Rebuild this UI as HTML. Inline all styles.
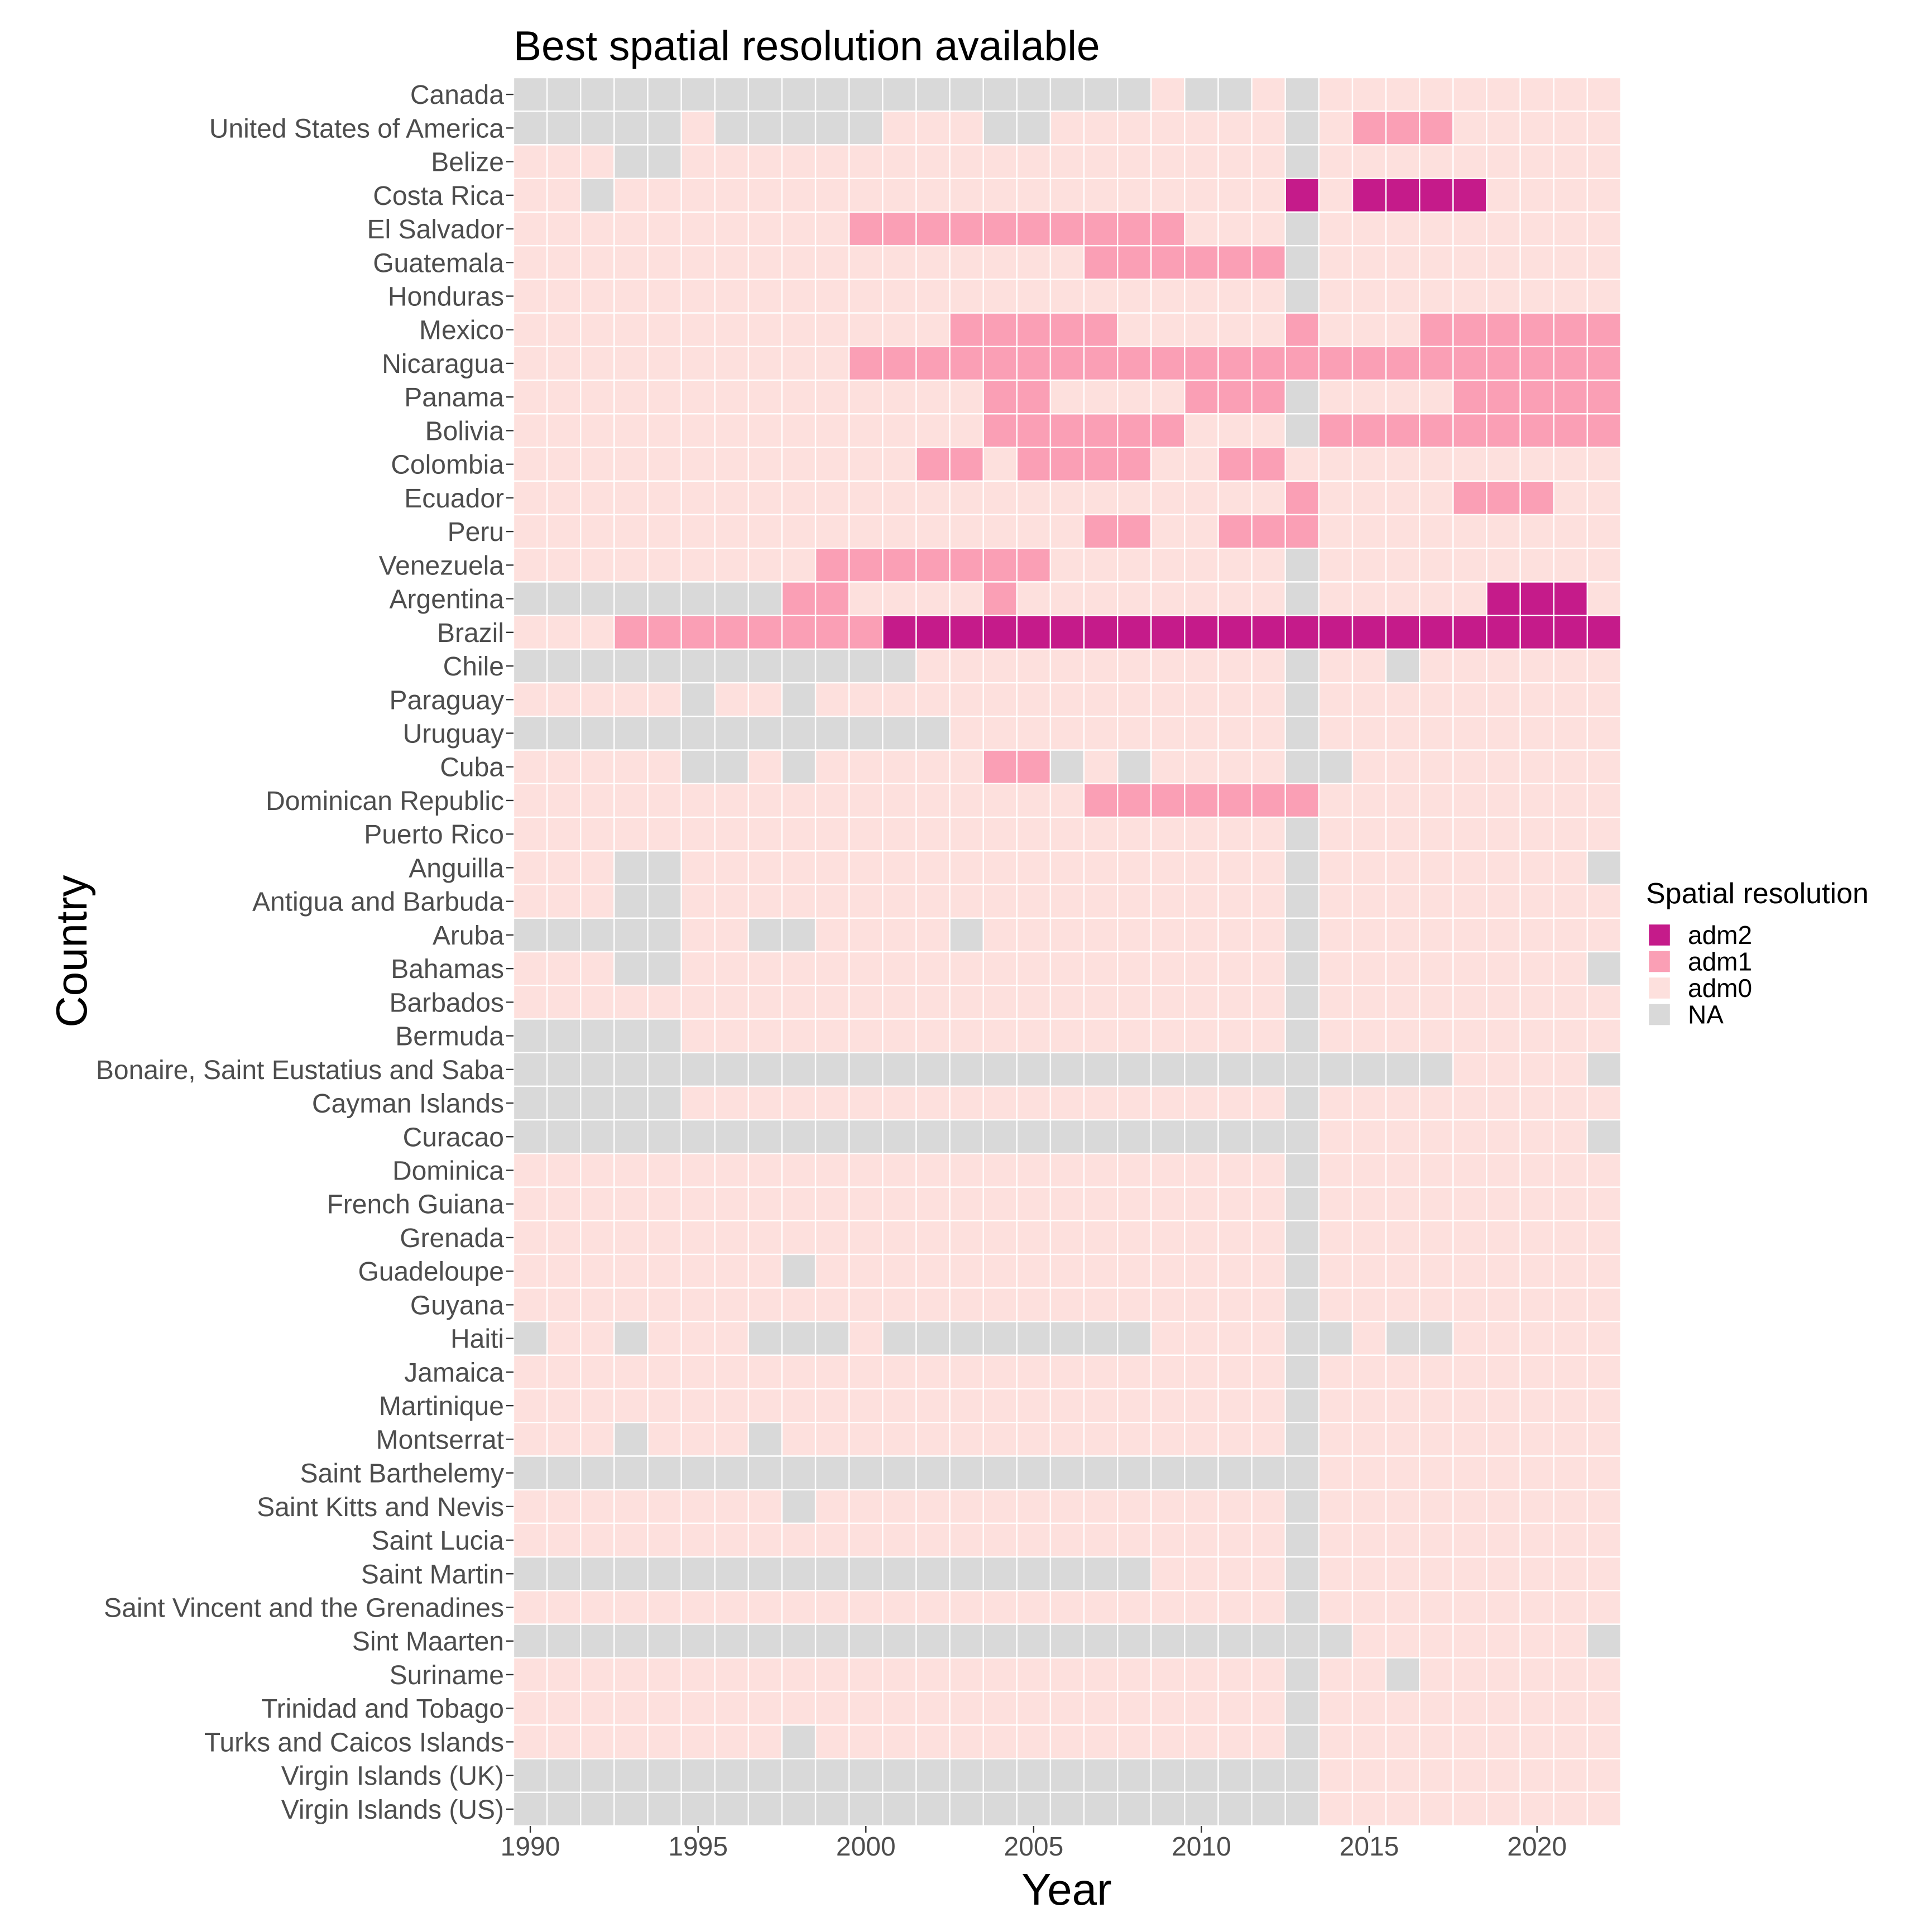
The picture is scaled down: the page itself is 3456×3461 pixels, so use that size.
<!DOCTYPE html>
<html><head><meta charset="utf-8"><style>
html,body{margin:0;padding:0;background:#fff}
svg text{font-family:"Liberation Sans",Arial,sans-serif}
</style></head><body>
<svg id="chart" xmlns="http://www.w3.org/2000/svg" width="3456" height="3456" viewBox="0 0 3456 3456">
<rect width="3456" height="3456" fill="#fff"/>
<text x="920" y="108" font-size="75" fill="#000">Best spatial resolution available</text>
<g id="cells"></g>
<g id="yaxis"></g>
<g id="xaxis"></g>
<text x="1911" y="3412" font-size="80" text-anchor="middle" fill="#000">Year</text>
<text transform="translate(155,1704) rotate(-90)" font-size="78" text-anchor="middle" fill="#000">Country</text>
<g>
<text x="2949" y="1618" font-size="52" fill="#000">Spatial resolution</text>
<g id="legend-entries"></g>
</g>
</svg>
<script>
const countries=["Canada","United States of America","Belize","Costa Rica","El Salvador","Guatemala","Honduras","Mexico","Nicaragua","Panama","Bolivia","Colombia","Ecuador","Peru","Venezuela","Argentina","Brazil","Chile","Paraguay","Uruguay","Cuba","Dominican Republic","Puerto Rico","Anguilla","Antigua and Barbuda","Aruba","Bahamas","Barbados","Bermuda","Bonaire, Saint Eustatius and Saba","Cayman Islands","Curacao","Dominica","French Guiana","Grenada","Guadeloupe","Guyana","Haiti","Jamaica","Martinique","Montserrat","Saint Barthelemy","Saint Kitts and Nevis","Saint Lucia","Saint Martin","Saint Vincent and the Grenadines","Sint Maarten","Suriname","Trinidad and Tobago","Turks and Caicos Islands","Virgin Islands (UK)","Virgin Islands (US)"];
const years=[];for(let y=1990;y<=2022;y++)years.push(y);
const xTicks=[1990,1995,2000,2005,2010,2015,2020];
// run-length encoded resolution per country: code+count, codes 2=adm2,1=adm1,0=adm0,N=NA
const STD="0:23 N:1 0:9";
const resolution=[
"N:19 0:1 N:2 0:1 N:1 0:9",
"N:5 0:1 N:5 0:3 N:2 0:7 N:1 0:1 1:3 0:5",
"0:3 N:2 0:18 N:1 0:9",
"0:2 N:1 0:20 2:1 0:1 2:4 0:4",
"0:10 1:10 0:3 N:1 0:9",
"0:17 1:6 N:1 0:9",
STD,
"0:13 1:5 0:5 1:1 0:3 1:6",
"0:10 1:23",
"0:14 1:2 0:4 1:3 N:1 0:4 1:5",
"0:14 1:6 0:3 N:1 1:9",
"0:12 1:2 0:1 1:4 0:2 1:2 0:10",
"0:23 1:1 0:4 1:3 0:2",
"0:17 1:2 0:2 1:3 0:9",
"0:9 1:7 0:7 N:1 0:9",
"N:8 1:2 0:4 1:1 0:8 N:1 0:5 2:3 0:1",
"0:3 1:8 2:22",
"N:12 0:11 N:1 0:2 N:1 0:6",
"0:5 N:1 0:2 N:1 0:14 N:1 0:9",
"N:13 0:10 N:1 0:9",
"0:5 N:2 0:1 N:1 0:5 1:2 N:1 0:1 N:1 0:4 N:2 0:8",
"0:17 1:7 0:9",
STD,
"0:3 N:2 0:18 N:1 0:8 N:1",
"0:3 N:2 0:18 N:1 0:9",
"N:5 0:2 N:2 0:4 N:1 0:9 N:1 0:9",
"0:3 N:2 0:18 N:1 0:8 N:1",
STD,
"N:5 0:18 N:1 0:9",
"N:28 0:4 N:1",
"N:5 0:18 N:1 0:9",
"N:24 0:8 N:1",
STD,STD,STD,
"0:8 N:1 0:14 N:1 0:9",
STD,
"N:1 0:2 N:1 0:3 N:3 0:1 N:8 0:4 N:2 0:1 N:2 0:5",
STD,STD,
"0:3 N:1 0:3 N:1 0:15 N:1 0:9",
"N:24 0:9",
"0:8 N:1 0:14 N:1 0:9",
STD,
"N:19 0:4 N:1 0:9",
STD,
"N:25 0:7 N:1",
"0:23 N:1 0:2 N:1 0:6",
STD,
"0:8 N:1 0:14 N:1 0:9",
"N:24 0:9",
"N:24 0:9"
];
const legendKeys=["adm2","adm1","adm0","NA"];
const colors={"2":"#C51B8A","1":"#FA9FB5","0":"#FDE0DD","N":"#D9D9D9"};
const codeName={"2":"adm2","1":"adm1","0":"adm0","N":"NA"};
const NS="http://www.w3.org/2000/svg";
const L=920,R=2904,T=139,B=3271;
const cw=(R-L)/years.length, rh=(B-T)/countries.length;
const xPos=y=>L+(y-years[0])*cw;
const yPos=i=>T+i*rh;
function expand(s){const out=[];s.split(" ").forEach(p=>{const [c,n]=p.split(":");for(let k=0;k<+n;k++)out.push(c);});return out;}
const cells=document.getElementById("cells");
countries.forEach((c,i)=>{
  const row=expand(resolution[i]);
  row.forEach((code,j)=>{
    const r=document.createElementNS(NS,"rect");
    r.setAttribute("x",xPos(years[j]));r.setAttribute("y",yPos(i));
    r.setAttribute("width",cw);r.setAttribute("height",rh);
    r.setAttribute("fill",colors[code]);r.setAttribute("stroke","#fff");r.setAttribute("stroke-width","2.4");
    
    
    cells.appendChild(r);
  });
});
const ya=document.getElementById("yaxis");
countries.forEach((c,i)=>{
  const cy=yPos(i)+rh/2;
  const t=document.createElementNS(NS,"text");
  t.setAttribute("x",903);t.setAttribute("y",cy+17);t.setAttribute("font-size","48");
  t.setAttribute("text-anchor","end");t.setAttribute("fill","#4d4d4d");t.textContent=c;
  
  
  ya.appendChild(t);
  const l=document.createElementNS(NS,"line");
  l.setAttribute("x1",907);l.setAttribute("x2",920);l.setAttribute("y1",cy);l.setAttribute("y2",cy);
  l.setAttribute("stroke","#333");l.setAttribute("stroke-width","2.4");
  
  
  ya.appendChild(l);
});
const xa=document.getElementById("xaxis");
xTicks.forEach(y=>{
  const cx=xPos(y)+cw/2;
  const l=document.createElementNS(NS,"line");
  l.setAttribute("x1",cx);l.setAttribute("x2",cx);l.setAttribute("y1",B);l.setAttribute("y2",B+12);
  l.setAttribute("stroke","#333");l.setAttribute("stroke-width","2.4");
  
  
  xa.appendChild(l);
  const t=document.createElementNS(NS,"text");
  t.setAttribute("x",cx);t.setAttribute("y",B+53);t.setAttribute("font-size","48");
  t.setAttribute("text-anchor","middle");t.setAttribute("fill","#4d4d4d");t.textContent=y;
  
  
  xa.appendChild(t);
});
const lg=document.getElementById("legend-entries");
const legCodes=["2","1","0","N"];
legendKeys.forEach((k,i)=>{
  const y=1655+i*47.5;
  const r=document.createElementNS(NS,"rect");
  r.setAttribute("x",2953);r.setAttribute("y",y);r.setAttribute("width",40);r.setAttribute("height",40);
  r.setAttribute("fill",colors[legCodes[i]]);r.setAttribute("stroke","#fff");r.setAttribute("stroke-width","2.4");
  
  
  lg.appendChild(r);
  const t=document.createElementNS(NS,"text");
  t.setAttribute("x",3024);t.setAttribute("y",y+36);t.setAttribute("font-size","46");t.setAttribute("fill","#000");
  t.textContent=k;
  
  
  lg.appendChild(t);
});
</script>
</body></html>
